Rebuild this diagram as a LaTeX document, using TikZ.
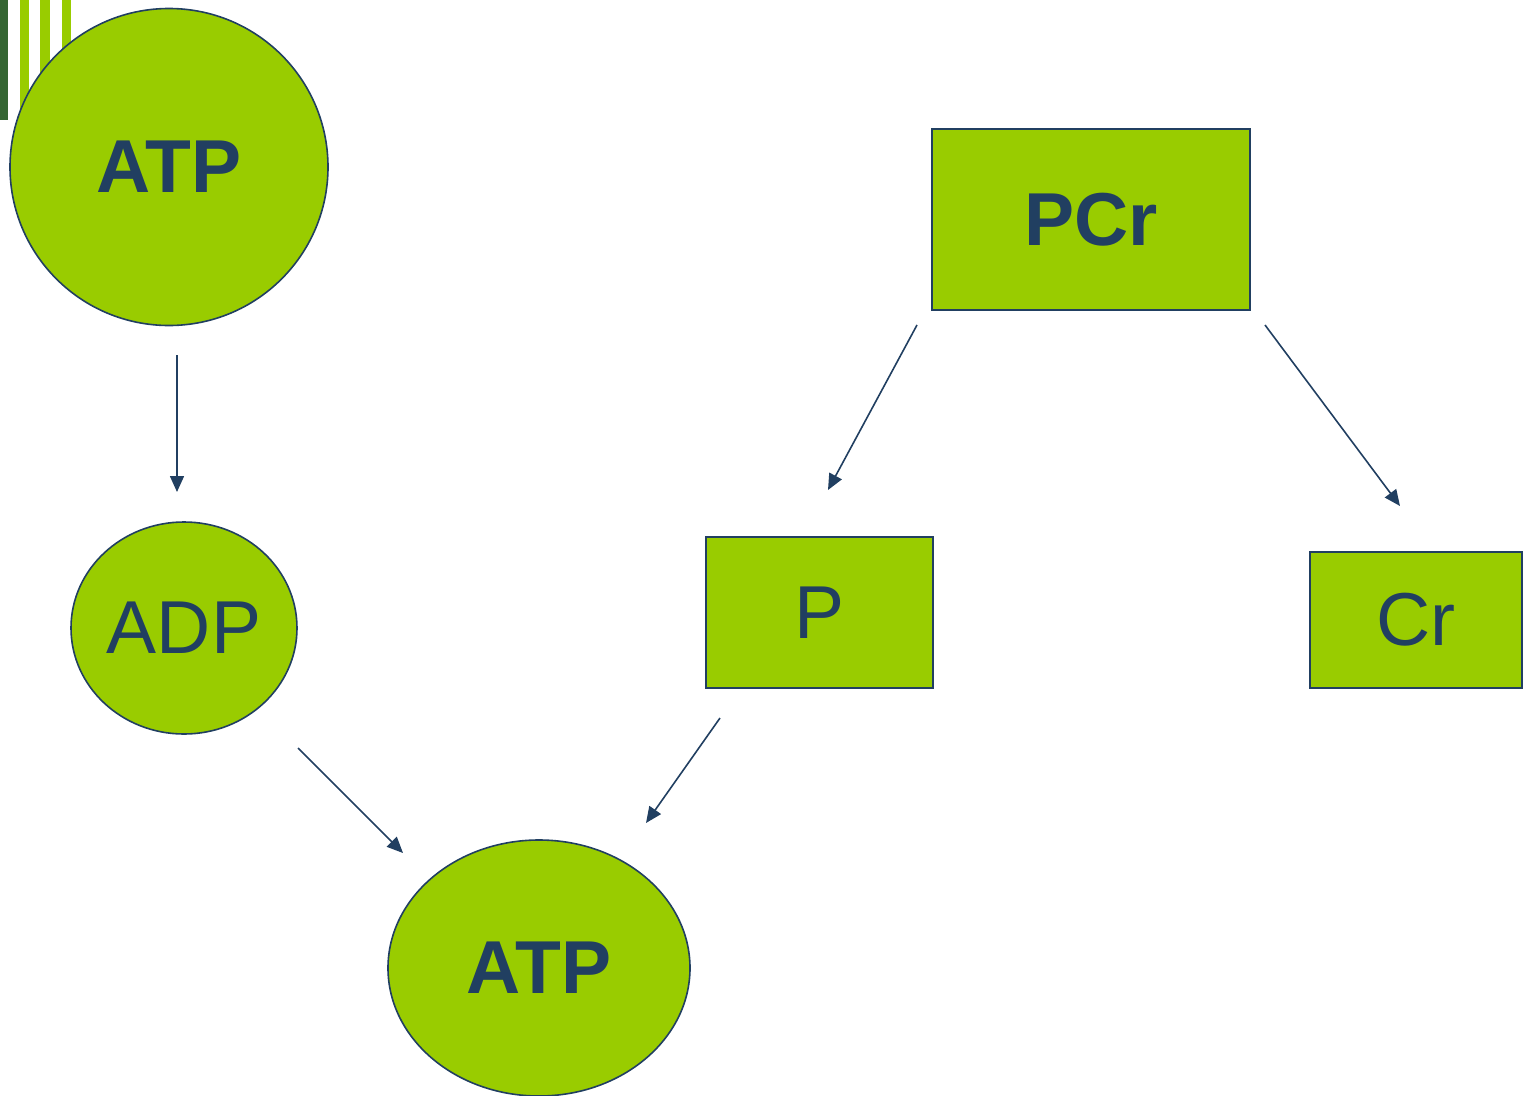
\documentclass[tikz,border=0pt]{standalone}
\usepackage{fontspec}
\setmainfont{Liberation Sans}
\usetikzlibrary{arrows.meta}
\definecolor{leaf}{HTML}{99CC00}
\definecolor{ink}{HTML}{213F61}
\definecolor{forest}{HTML}{356633}
\tikzset{
  blob/.style={draw=ink, line width=1.6pt, fill=leaf},
  card/.style={draw=ink, line width=1.6pt, fill=leaf, rectangle},
  word/.style={text=ink, font=\fontsize{75}{75}\selectfont},
  boldword/.style={text=ink, font=\fontsize{75}{75}\selectfont\bfseries},
  flow/.style={draw=ink, line width=1.6pt, -{Triangle[length=16pt,width=14pt]}}
}
\begin{document}
\begin{tikzpicture}[x=1pt,y=-1pt]
\useasboundingbox (0,0) rectangle (1523,1095);
% corner decoration
\fill[forest] (0,0) rectangle (8,120);
\fill[leaf] (20,0) rectangle (29,120);
\fill[leaf] (40,0) rectangle (50,120);
\fill[leaf] (62,0) rectangle (71,120);
% molecules
\draw[blob] (169,167) ellipse [x radius=159, y radius=158.5];
\node[boldword] (atpA) at (169,167) {ATP};
\draw[blob] (184,628) ellipse [x radius=113, y radius=106];
\node[word] (adp) at (184,628) {ADP};
\draw[blob] (539,968) ellipse [x radius=151, y radius=128];
\node[boldword] (atpB) at (539,968) {ATP};
\node[card, minimum width=318pt, minimum height=181pt] (pcr) at (1091,219.5) {};
\node[boldword] at (pcr.center) {PCr};
\node[card, minimum width=227pt, minimum height=151pt] (p) at (819.5,612.5) {};
\node[word] at (p.center) {P};
\node[card, minimum width=212pt, minimum height=136pt] (cr) at (1416,620) {};
\node[word] at (cr.center) {Cr};
% reaction arrows
\coordinate (a1) at (177,355);  \coordinate (a2) at (177,492);
\coordinate (b1) at (917,325);  \coordinate (b2) at (828,490);
\coordinate (c1) at (1265,325); \coordinate (c2) at (1400,506);
\coordinate (d1) at (298,748);  \coordinate (d2) at (403,853);
\coordinate (e1) at (720,718);  \coordinate (e2) at (646,823);
\draw[flow] (a1) -- (a2);
\draw[flow] (b1) -- (b2);
\draw[flow] (c1) -- (c2);
\draw[flow] (d1) -- (d2);
\draw[flow] (e1) -- (e2);
\end{tikzpicture}
\end{document}
